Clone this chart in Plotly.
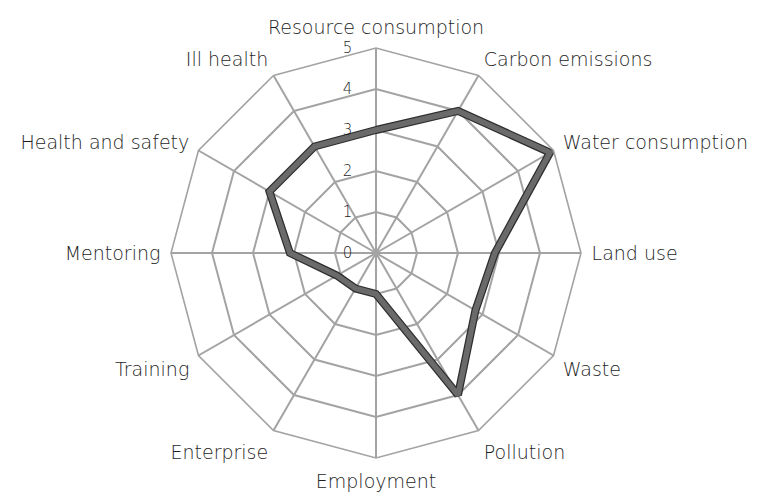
import plotly.graph_objects as go

categories = ["Resource consumption", "Carbon emissions", "Water consumption", "Land use",
              "Waste", "Pollution", "Employment", "Enterprise", "Training", "Mentoring",
              "Health and safety", "Ill health"]
values = [3.0, 4.0, 4.9, 2.9, 2.8, 4.0, 1.0, 1.0, 1.1, 2.1, 3.0, 3.0]
radial_ticks = [0, 1, 2, 3, 4, 5]

theta = categories + [categories[0]]
r = values + [values[0]]

fig = go.Figure()
fig.add_trace(go.Scatterpolar(r=r, theta=theta, mode="lines",
                              line=dict(color="#2e2e2e", width=8), hoverinfo="skip",
                              showlegend=False))
fig.add_trace(go.Scatterpolar(r=r, theta=theta, mode="lines",
                              line=dict(color="#6a6a6a", width=5.5),
                              showlegend=False))

fig.update_layout(
    width=757, height=495,
    margin=dict(l=0, r=0, t=0, b=0),
    paper_bgcolor="white",
    font=dict(family="DejaVu Sans", size=19, color="#1e1e1e"),
    polar=dict(
        domain=dict(x=[163/757, 573/757], y=[1-450/495, 1-40/495]),
        bgcolor="white",
        gridshape="linear",
        angularaxis=dict(rotation=90, direction="clockwise", categoryorder="array",
                         categoryarray=categories,
                         gridcolor="#a3a3a3", gridwidth=1.6,
                         linecolor="#a3a3a3", linewidth=1.6,
                         ticks="outside", ticklen=6, tickcolor="rgba(0,0,0,0)",
                         tickfont=dict(family="DejaVu Sans", size=19, color="#1e1e1e", weight=300)),
        radialaxis=dict(range=[0, 5], tickvals=radial_ticks, ticktext=[str(t) for t in radial_ticks],
                        angle=90, tickangle=90, side="counterclockwise",
                        gridcolor="#a3a3a3", gridwidth=1.6,
                        showline=False, ticks="outside", ticklen=18, tickcolor="rgba(0,0,0,0)",
                        tickfont=dict(family="DejaVu Sans", size=15, color="#1e1e1e", weight=300)),
    ),
)
fig.write_html("out.html")
